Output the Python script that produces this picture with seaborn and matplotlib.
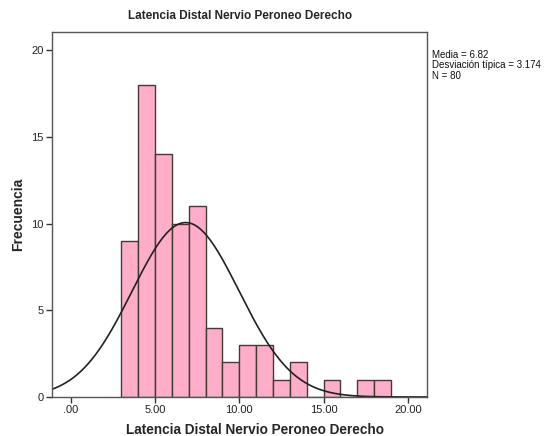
import numpy as np
import pandas as pd
import matplotlib
matplotlib.use("Agg")
import matplotlib.pyplot as plt
import seaborn as sns

# Data
bin_left = [3, 4, 5, 6, 7, 8, 9, 10, 11, 12, 13, 14, 15, 16, 17, 18]
counts = [9, 18, 14, 10, 11, 4, 2, 3, 3, 1, 2, 0, 1, 0, 1, 1]
mean_val = 6.82
sd_val = 3.174
n_val = 80
x_ticks = [0, 5, 10, 15, 20]
x_ticklabels = [".00", "5.00", "10.00", "15.00", "20.00"]
y_ticks = [0, 5, 10, 15, 20]
title = "Latencia Distal Nervio Peroneo Derecho"
xlabel = "Latencia Distal Nervio Peroneo Derecho"
ylabel = "Frecuencia"

sns.set_style("white")
plt.rcParams['font.family'] = ['Liberation Sans', 'DejaVu Sans']

W, H = 547, 436
fig = plt.figure(figsize=(W/100, H/100), dpi=100)
ax = fig.add_axes([52/W, 39/H, 375/W, 365/H])

edges = bin_left + [bin_left[-1] + 1]
df = pd.DataFrame({"x": [b + 0.5 for b in bin_left], "w": counts})
sns.histplot(data=df, x="x", weights="w", bins=edges, ax=ax,
             color="#FFADC9", alpha=1.0, edgecolor="#3d3d33", linewidth=1.0)

xs = np.linspace(-1.2, 21.2, 400)
ys = n_val * 1.0 * np.exp(-0.5 * ((xs - mean_val) / sd_val) ** 2) / (sd_val * np.sqrt(2 * np.pi))
sns.lineplot(x=xs, y=ys, ax=ax, color="#222222", linewidth=1.2)

ax.set_xlim(-1.1, 21.13)
ax.set_ylim(0, 21.04)
ax.set_xticks(x_ticks)
ax.set_xticklabels(x_ticklabels)
ax.set_yticks(y_ticks)
ax.tick_params(axis="both", direction="out", length=4, width=1, color="#333333",
               labelsize=8, labelcolor="#222222", bottom=True, left=True, pad=2)
for s in ax.spines.values():
    s.set_color("#555555")
    s.set_linewidth(1.0)

ax.set_xlabel("")
ax.set_ylabel("")
fig.text(255/W, 1 - 430/H, xlabel, fontsize=9.8, fontweight="bold", ha="center", va="center")
fig.text(18/W, 1 - 214/H, ylabel, fontsize=10, fontweight="bold", ha="center", va="center", rotation=90)
fig.text(240/W, 1 - 16/H, title, fontsize=8.5, fontweight="bold", ha="center", va="center")

fig.text(432/W, 1 - 50/H, f"Media = {mean_val}\nDesviación típica = {sd_val}\nN = {n_val}",
         fontsize=7, va="top", ha="left", linespacing=1.05, color="#111111")

fig.savefig("out.png", dpi=100)
